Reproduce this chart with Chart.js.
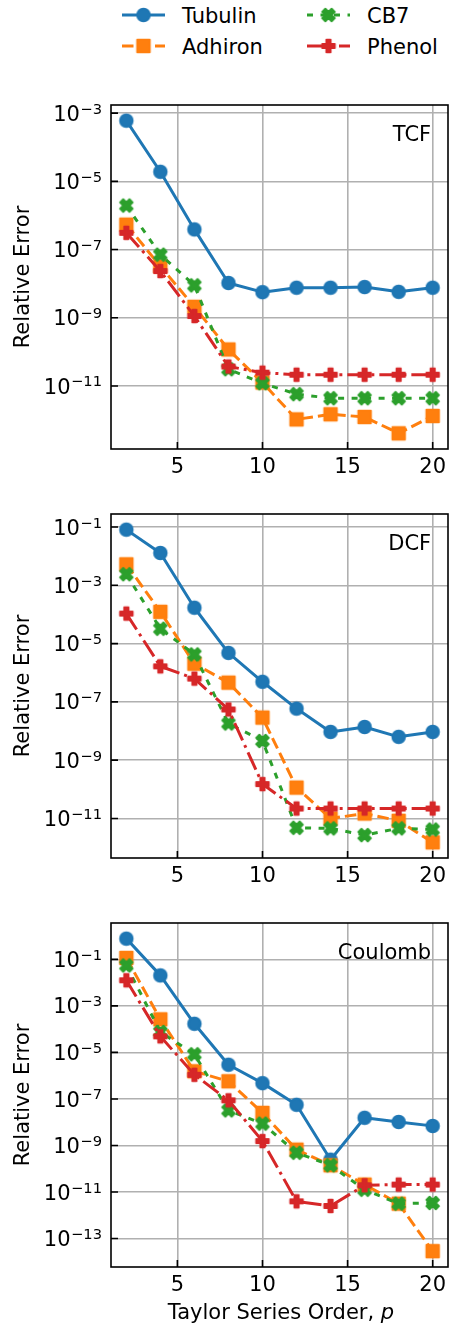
<!DOCTYPE html>
<html>
<head>
<meta charset="utf-8">
<script src="https://cdn.jsdelivr.net/npm/chart.js@4.4.0/dist/chart.umd.min.js"></script>
<style>
  body { margin: 0; background: #fff; }
  #contenedor { position: relative; width: 449px; height: 1330px; overflow: hidden; font-family: "DejaVu Sans", sans-serif; }
  #contenedor canvas { position: absolute; left: 0; }
  .leyenda-texto { position: absolute; font-size: 21px; line-height: 21px; color: #000; white-space: nowrap; }
</style>
</head>
<body>
<div id="contenedor">
  <canvas id="chartTCF" width="449" height="390" style="top:100px;width:449px;height:390px"></canvas>
  <canvas id="chartDCF" width="449" height="391" style="top:509px;width:449px;height:391px"></canvas>
  <canvas id="chartCoulomb" width="449" height="412" style="top:918px;width:449px;height:412px"></canvas>
</div>
<script>
// Taylor series order on the x axis
const orders = [2, 4, 6, 8, 10, 12, 14, 16, 18, 20]
const xTicks = [5, 10, 15, 20]

// log10 of the relative error, one array per system and panel
const tcfTubulin = [-3.22, -4.72, -6.41, -7.98, -8.25, -8.12, -8.12, -8.10, -8.24, -8.12]
const tcfAdhiron = [-6.27, -7.49, -8.68, -9.93, -10.90, -11.98, -11.83, -11.91, -12.39, -11.88]
const tcfCB7     = [-5.71, -7.15, -8.05, -10.51, -10.92, -11.24, -11.36, -11.36, -11.36, -11.36]
const tcfPhenol  = [-6.51, -7.63, -8.95, -10.43, -10.61, -10.67, -10.67, -10.67, -10.67, -10.67]

const dcfTubulin = [-1.09, -1.89, -3.77, -5.32, -6.31, -7.23, -8.03, -7.86, -8.20, -8.03]
const dcfAdhiron = [-2.28, -3.91, -5.69, -6.34, -7.54, -9.94, -11.00, -10.83, -11.08, -11.82]
const dcfCB7     = [-2.62, -4.49, -5.37, -7.74, -8.34, -11.32, -11.34, -11.57, -11.34, -11.38]
const dcfPhenol  = [-3.97, -5.78, -6.20, -7.26, -9.82, -10.66, -10.66, -10.66, -10.66, -10.66]

const coulombTubulin = [-0.11, -1.69, -3.77, -5.53, -6.32, -7.25, -9.61, -7.81, -7.99, -8.16]
const coulombAdhiron = [-0.94, -3.58, -5.81, -6.24, -7.60, -9.18, -9.85, -10.68, -11.50, -13.54]
const coulombCB7     = [-1.26, -4.12, -5.08, -7.49, -8.06, -9.31, -9.85, -10.90, -11.50, -11.47]
const coulombPhenol  = [-1.90, -4.31, -5.96, -7.06, -8.81, -11.40, -11.60, -10.71, -10.68, -10.68]

// exponents that get a labelled tick (10^k)
const tcfTicks = [-3, -5, -7, -9, -11]
const dcfTicks = [-1, -3, -5, -7, -9, -11]
const coulombTicks = [-1, -3, -5, -7, -9, -11, -13]

const FONT = 'DejaVu Sans'
const GRID = '#b0b0b0'
const MS = 12.5

const systems = [
  { name: 'Tubulin', color: '#1f77b4', dash: [], marker: 'circle' },
  { name: 'Adhiron', color: '#ff7f0e', dash: [11.5, 5], marker: 'square' },
  { name: 'CB7', color: '#2ca02c', dash: [6, 7.5], marker: 'x' },
  { name: 'Phenol', color: '#d62728', dash: [19, 5, 3, 5], marker: 'plus' },
]

// marker glyphs, used as pointStyle images
const makeMarker = (shape, color) => {
  const c = document.createElement('canvas')
  c.width = 20
  c.height = 20
  const ctx = c.getContext('2d')
  ctx.translate(10, 10)
  ctx.fillStyle = color
  ctx.strokeStyle = color
  ctx.lineWidth = 2
  ctx.lineJoin = 'round'
  ctx.beginPath()
  if (shape === 'circle') {
    ctx.arc(0, 0, MS / 2, 0, 2 * Math.PI)
  } else if (shape === 'square') {
    ctx.rect(-MS / 2, -MS / 2, MS, MS)
  } else {
    const pts = shape === 'plus'
      ? [[-1, -3], [1, -3], [1, -1], [3, -1], [3, 1], [1, 1], [1, 3], [-1, 3], [-1, 1], [-3, 1], [-3, -1], [-1, -1]].map(([a, b]) => [a / 6, b / 6])
      : [[-1, -2], [0, -1], [1, -2], [2, -1], [1, 0], [2, 1], [1, 2], [0, 1], [-1, 2], [-2, 1], [-1, 0], [-2, -1]].map(([a, b]) => [a / 4, b / 4])
    pts.forEach(([a, b], i) => i ? ctx.lineTo(a * MS, b * MS) : ctx.moveTo(a * MS, b * MS))
    ctx.closePath()
  }
  ctx.fill()
  ctx.stroke()
  return c
}
systems.forEach(s => { s.img = makeMarker(s.marker, s.color) })

// LEGEND
const contenedor = document.getElementById('contenedor')
const legendSlots = [
  { name: 'Tubulin', left: 122, cy: 15 },
  { name: 'CB7', left: 307, cy: 15 },
  { name: 'Adhiron', left: 122, cy: 46 },
  { name: 'Phenol', left: 307, cy: 46 },
]
legendSlots.forEach(slot => {
  const s = systems.find(d => d.name === slot.name)
  const icon = document.createElement('canvas')
  icon.width = 44
  icon.height = 20
  icon.style.left = slot.left + 'px'
  icon.style.top = (slot.cy - 10) + 'px'
  const ctx = icon.getContext('2d')
  ctx.strokeStyle = s.color
  ctx.lineWidth = 3
  ctx.setLineDash(s.dash)
  ctx.beginPath()
  ctx.moveTo(0, 10)
  ctx.lineTo(43, 10)
  ctx.stroke()
  ctx.drawImage(s.img, 21.5 - 10, 0)
  contenedor.appendChild(icon)

  const txt = document.createElement('span')
  txt.className = 'leyenda-texto'
  txt.textContent = s.name
  txt.style.left = (slot.left + 60) + 'px'
  txt.style.top = (slot.cy - 9.5) + 'px'
  contenedor.appendChild(txt)
})

// spines, inward ticks, 10^k labels and the panel name
const framePlugin = {
  id: 'frame',
  beforeDatasetsDraw(chart) {
    const { ctx, chartArea: a, scales } = chart
    ctx.save()
    ctx.strokeStyle = '#000'
    ctx.lineWidth = 1.6
    ctx.beginPath()
    scales.y.ticks.forEach(t => {
      const y = scales.y.getPixelForValue(t.value)
      ctx.moveTo(a.left, y)
      ctx.lineTo(a.left + 7, y)
    })
    scales.x.ticks.forEach(t => {
      const x = scales.x.getPixelForValue(t.value)
      ctx.moveTo(x, a.bottom)
      ctx.lineTo(x, a.bottom - 7)
    })
    ctx.stroke()
    ctx.restore()
  },
  afterDatasetsDraw(chart) {
    const { ctx, chartArea: a } = chart
    ctx.save()
    ctx.strokeStyle = '#000'
    ctx.lineWidth = 1.6
    ctx.strokeRect(a.left, a.top, a.right - a.left, a.bottom - a.top)
    ctx.restore()
  },
  afterDraw(chart, args, opts) {
    const { ctx, chartArea: a, scales } = chart
    ctx.save()
    ctx.fillStyle = '#000'
    ctx.textAlign = 'right'
    ctx.textBaseline = 'alphabetic'
    scales.y.ticks.forEach(t => {
      const y = scales.y.getPixelForValue(t.value)
      const exp = '\u2212' + Math.abs(Math.round(Math.log10(t.value)))
      ctx.font = `14.7px "${FONT}"`
      const right = a.left - 9
      ctx.fillText(exp, right, y + 0.5)
      const w = ctx.measureText(exp).width
      ctx.font = `21px "${FONT}"`
      ctx.fillText('10', right - w - 0.5, y + 7.6)
    })
    ctx.font = `21px "${FONT}"`
    ctx.fillText(opts.label, a.left + 0.95 * (a.right - a.left), a.top + 36)
    if (opts.xTitle) {
      const main = 'Taylor Series Order, '
      const wMain = ctx.measureText(main).width
      ctx.font = `italic 21px "${FONT}"`
      const wP = ctx.measureText('p').width
      const x0 = (a.left + a.right) / 2 + 1.5 - (wMain + wP) / 2
      ctx.textAlign = 'left'
      ctx.fillText('p', x0 + wMain, a.bottom + 52)
      ctx.font = `21px "${FONT}"`
      ctx.fillText(main, x0, a.bottom + 52)
    }
    ctx.restore()
  }
}

const makePanel = (id, series, tickExps, label, xTitle) => {
  const canvas = document.getElementById(id)
  const all = series.flat()
  const hi = Math.max(...all)
  const lo = Math.min(...all)
  const pad = 0.05 * (hi - lo)
  const xPad = 0.05 * (orders[orders.length - 1] - orders[0])
  const xAxisHeight = canvas.height - 5 - 344

  return new Chart(canvas, {
    type: 'line',
    data: {
      datasets: systems.map((s, i) => ({
        label: s.name,
        data: orders.map((p, j) => ({ x: p, y: 10 ** series[i][j] })),
        borderColor: s.color,
        borderWidth: 3,
        borderDash: s.dash,
        borderCapStyle: s.dash.length ? 'butt' : 'square',
        borderJoinStyle: 'round',
        pointStyle: s.img,
        pointRadius: 7,
        pointHoverRadius: 7,
        fill: false,
        tension: 0,
        order: systems.length - i,
      }))
    },
    options: {
      responsive: false,
      animation: false,
      events: [],
      layout: { autoPadding: false, padding: { top: 5, right: 1, left: 0, bottom: 0 } },
      scales: {
        x: {
          type: 'linear',
          min: orders[0] - xPad,
          max: orders[orders.length - 1] + xPad,
          afterBuildTicks: sc => { sc.ticks = xTicks.map(v => ({ value: v })) },
          afterFit: sc => {
            sc.height = xAxisHeight
            sc.paddingLeft = 0
            sc.paddingRight = 0
          },
          grid: { color: GRID, lineWidth: 1.6, drawTicks: false },
          border: { display: false },
          ticks: { color: '#000', font: { family: FONT, size: 21 }, padding: 6, maxRotation: 0, autoSkip: false },
        },
        y: {
          type: 'logarithmic',
          min: 10 ** (lo - pad),
          max: 10 ** (hi + pad),
          afterBuildTicks: sc => { sc.ticks = tickExps.map(k => ({ value: 10 ** k })) },
          afterFit: sc => {
            sc.width = 111
            sc.paddingTop = 0
            sc.paddingBottom = 0
          },
          grid: { color: GRID, lineWidth: 1.6, drawTicks: false },
          border: { display: false },
          ticks: { display: false },
          title: {
            display: true,
            text: 'Relative Error',
            color: '#000',
            font: { family: FONT, size: 21 },
            padding: { top: 11, bottom: 0 },
          },
        },
      },
      plugins: {
        legend: { display: false },
        tooltip: { enabled: false },
        frame: { label, xTitle },
      },
    },
    plugins: [framePlugin],
  })
}

makePanel('chartTCF', [tcfTubulin, tcfAdhiron, tcfCB7, tcfPhenol], tcfTicks, 'TCF', false)
makePanel('chartDCF', [dcfTubulin, dcfAdhiron, dcfCB7, dcfPhenol], dcfTicks, 'DCF', false)
makePanel('chartCoulomb', [coulombTubulin, coulombAdhiron, coulombCB7, coulombPhenol], coulombTicks, 'Coulomb', true)
</script>
</body>
</html>
